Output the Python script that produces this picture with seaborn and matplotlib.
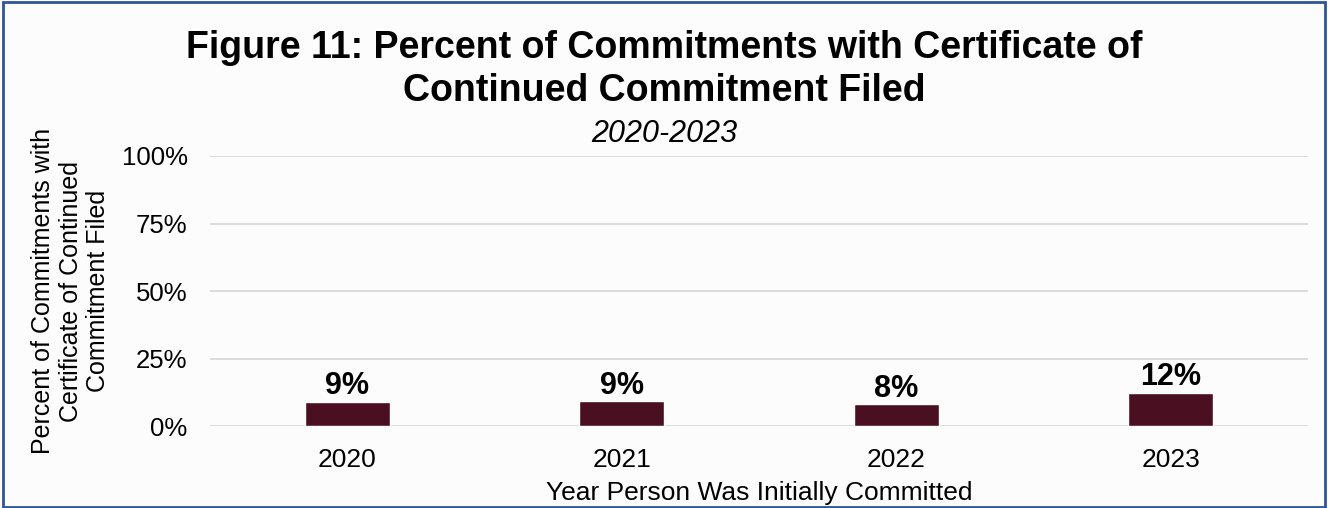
import pandas as pd
import numpy as np
import matplotlib.pyplot as plt
import seaborn as sns
from matplotlib.patches import Rectangle

years = ['2020', '2021', '2022', '2023']
pct = [0.089, 0.092, 0.081, 0.124]
labels = ['9%', '9%', '8%', '12%']

df = pd.DataFrame({'Year': years, 'Percent': pct})

sns.set_style('white')
plt.rcParams['font.family'] = ['Liberation Sans', 'DejaVu Sans']
plt.rcParams['text.color'] = 'black'
plt.rcParams['axes.labelcolor'] = 'black'
plt.rcParams['xtick.color'] = 'black'
plt.rcParams['ytick.color'] = 'black'

bg = '#fcfcfc'
fig = plt.figure(figsize=(13.28, 5.08), dpi=100, facecolor=bg)
ax = fig.add_axes([0.158, 0.161, 0.827, 0.532], facecolor=bg)

sns.barplot(data=df, x='Year', y='Percent', color='#4a1022', width=0.31,
            saturation=1, ax=ax)

# data labels above the bars
for i, (v, t) in enumerate(zip(pct, labels)):
    ax.text(i, v + 0.003, t, ha='center', va='bottom', fontsize=22,
            fontweight='bold', color='black')

ax.set_ylim(0, 1)
ax.set_yticks([0, 0.25, 0.5, 0.75, 1.0])
ax.set_yticklabels(['0%', '25%', '50%', '75%', '100%'], fontsize=18.5)
ax.tick_params(axis='x', labelsize=19, length=0, pad=16)
ax.tick_params(axis='y', length=0, pad=16)
ax.yaxis.grid(True, color='#d9d9d9', linewidth=1.3)
ax.set_axisbelow(True)
for s in ax.spines.values():
    s.set_visible(False)

ax.set_xlabel('Year Person Was Initially Committed', fontsize=19, labelpad=6)
ax.set_ylabel('Percent of Commitments with\nCertificate of Continued\nCommitment Filed',
              fontsize=18, linespacing=1.2, labelpad=8)

fig.text(0.5, 0.94, 'Figure 11: Percent of Commitments with Certificate of\nContinued Commitment Filed',
         ha='center', va='top', fontsize=27, fontweight='bold', linespacing=1.24)
fig.text(0.5, 0.736, '2020-2023', ha='center', va='center', fontsize=22,
         fontstyle='italic')

fig.patches.append(Rectangle((0.002, 0.002), 0.996, 0.994, transform=fig.transFigure,
                             fill=False, edgecolor='#2f5597', linewidth=2))

fig.savefig('out.png', dpi=100, facecolor=bg)
